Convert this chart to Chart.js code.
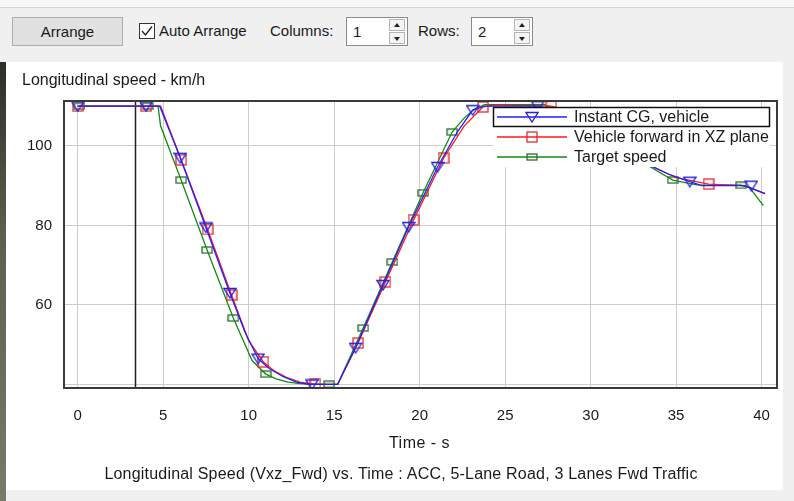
<!DOCTYPE html>
<html>
<head>
<meta charset="utf-8">
<script src="https://cdn.jsdelivr.net/npm/chart.js@4.4.0/dist/chart.umd.min.js"></script>
<style>
    body { margin: 0; width: 794px; height: 501px; background: #f0f0f0; position: relative; overflow: hidden;
           font-family: "Liberation Sans", Arial, sans-serif; color: #1a1a1a; }
    .abs { position: absolute; }
    #topline { left: 0; top: 0; width: 794px; height: 7px; background: #f7f7f7; border-bottom: 1px solid #d4d4d4; }
    .btn { background: #e1e1e1; border: 1px solid #adadad; box-sizing: border-box; font-size: 15px;
           display: flex; align-items: center; justify-content: center; }
    .lbl { font-size: 15px; line-height: 18px; top: 22px; }
    .spin { background: #fff; border: 1px solid #8a8a8a; box-sizing: border-box; font-size: 15px; }
    .spin span { position: absolute; left: 6px; top: 5px; }
    .arr { position: absolute; right: 2px; width: 16px; height: 12px; background: #f4f4f4; border: 1px solid #b4b4b4; box-sizing: border-box; }
    .arr i { position: absolute; left: 4px; width: 0; height: 0; border-left: 3px solid transparent; border-right: 3px solid transparent; }
    #panel { left: 6px; top: 62px; width: 777px; height: 428px; background: #fff; }
    #strip { left: 0; top: 62px; width: 6px; height: 439px; background: linear-gradient(#2e2e28, #5f5f50 40%, #7a7a6a); }
    #wrap { left: 0; top: 62px; width: 794px; height: 428px; }
    .ct { font-size: 16px; line-height: 18px; white-space: nowrap; }
</style>
</head>
<body>
<div id="topline" class="abs"></div>
<div class="abs btn" style="left:12px;top:17px;width:111px;height:29px">Arrange</div>
<svg class="abs" style="left:139px;top:23px" width="17" height="17">
    <rect x="0.5" y="0.5" width="15" height="15" fill="#fff" stroke="#333"/>
    <path d="M3 8 L6.5 12 L13 3.5" fill="none" stroke="#222" stroke-width="1.4"/>
</svg>
<div class="abs lbl" style="left:159px">Auto Arrange</div>
<div class="abs lbl" style="left:270px">Columns:</div>
<div class="abs spin" style="left:346px;top:17px;width:62px;height:29px"><span>1</span>
    <div class="arr" style="top:1px"><i style="top:3px;border-bottom:4px solid #222"></i></div>
    <div class="arr" style="top:14px"><i style="top:4px;border-top:4px solid #222"></i></div>
</div>
<div class="abs lbl" style="left:418px">Rows:</div>
<div class="abs spin" style="left:471px;top:17px;width:62px;height:29px"><span>2</span>
    <div class="arr" style="top:1px"><i style="top:3px;border-bottom:4px solid #222"></i></div>
    <div class="arr" style="top:14px"><i style="top:4px;border-top:4px solid #222"></i></div>
</div>

<div id="panel" class="abs"></div>
<div id="strip" class="abs"></div>
<div id="wrap" class="abs"><canvas id="chart" width="794" height="428"></canvas></div>
<div class="abs ct" style="left:22px;top:71px">Longitudinal speed - km/h</div>
<div class="abs ct" style="left:0;width:839px;text-align:center;top:434px;letter-spacing:0.5px">Time - s</div>
<div class="abs ct" style="left:0;width:802px;text-align:center;top:465px;letter-spacing:0.2px">Longitudinal Speed (Vxz_Fwd) vs. Time : ACC, 5-Lane Road, 3 Lanes Fwd Traffic</div>

<script>
// ---- data ----
const xTicks = [0, 5, 10, 15, 20, 25, 30, 35, 40];
const yTicks = [40, 60, 80, 100];
const cursorTime = 3.35;
const seriesNames = ['Instant CG, vehicle', 'Vehicle forward in XZ plane', 'Target speed'];

// Instant CG, vehicle
const cgTime  = [0, 4.8, 6, 7.5, 8.9, 9.8, 10.55, 11.2, 12, 12.8, 13.5, 15.2, 16.25, 17.85, 19.35, 21.05, 22.2, 23.1, 23.8, 27, 28.5, 30, 31.5, 33, 34.5, 35.8, 36.5, 39, 40.2];
const cgSpeed = [110, 110, 97, 79.5, 63, 53, 46.5, 44, 42, 40.6, 40, 40, 49.2, 65, 79.6, 94.7, 103.5, 109, 110, 110, 108, 104, 99.5, 96, 93, 91, 90, 90, 88];
const cgMarkTime  = [0, 4, 6, 7.5, 8.9, 10.55, 13.7, 16.25, 17.85, 19.35, 21.05, 23.1, 26.9, 35.8, 39.4];
const cgMarkSpeed = [110, 110, 97, 79.5, 63, 46.5, 40, 49.2, 65, 79.6, 94.7, 109, 110, 91, 90];

// Vehicle forward in XZ plane
const fwdTime  = [0, 4.85, 6.05, 7.6, 9.0, 10, 10.85, 11.5, 12.2, 13, 13.9, 15.2, 16.4, 18, 19.65, 21.4, 22.6, 23.7, 24.5, 27.7, 29, 30.5, 32, 33.7, 35, 36.9, 39, 40.2];
const fwdSpeed = [110, 110, 96.5, 79, 62.5, 51, 45.7, 43.4, 41.8, 40.6, 40, 40, 50.4, 65.8, 81.4, 96.9, 105, 109.8, 110.3, 110, 108.5, 104, 99, 94.7, 92, 90.4, 90, 88];
const fwdMarkTime  = [0, 4, 6.05, 7.6, 9.0, 10.85, 13.9, 16.4, 18.0, 19.65, 21.4, 23.7, 27.7, 36.9];
const fwdMarkSpeed = [110, 110, 96.5, 79, 62.5, 45.7, 40, 50.4, 65.8, 81.4, 96.9, 109.8, 110, 90.4];

// Target speed
const tgtTime  = [0, 4.7, 4.85, 6.05, 7.57, 9.1, 10.2, 11.0, 11.6, 12.3, 13, 14.7, 15.2, 16.7, 18.4, 20.2, 21.9, 22.6, 23.2, 23.8, 27.3, 29, 31, 33.5, 34.8, 36.2, 38.8, 39.3, 40.1];
const tgtSpeed = [110, 110, 105, 91.4, 73.8, 56.7, 46, 42.6, 41.4, 40.6, 40.2, 40, 40, 54.2, 70.8, 88.2, 103.5, 107, 109.3, 110.4, 110.4, 107, 101, 94.7, 91.4, 90.2, 90.1, 89.5, 85];
const tgtMarkTime  = [0.1, 4.1, 6.05, 7.57, 9.1, 11.0, 14.7, 16.7, 18.4, 20.2, 21.9, 34.8, 38.8];
const tgtMarkSpeed = [110, 110, 91.4, 73.8, 56.7, 42.6, 40, 54.2, 70.8, 88.2, 103.5, 91.4, 90.1];

const lineColors   = ['#1f1fff', '#ff1a1a', '#138a13'];
const markerColors = ['#2323d8', '#e52b2b', '#2a6e2a'];

// ---- helpers ----
const zip = (xs, ys) => xs.map((x, i) => ({ x, y: ys[i] }));

function makeMarker(kind, color) {
    const c = document.createElement('canvas');
    if (kind === 'tri') { c.width = 14; c.height = 12; }
    else if (kind === 'sq') { c.width = 12; c.height = 12; }
    else { c.width = 12; c.height = 8; }
    const g = c.getContext('2d');
    g.strokeStyle = color;
    g.lineWidth = 1.3;
    if (kind === 'tri') {
        g.beginPath(); g.moveTo(1, 1.5); g.lineTo(13, 1.5); g.lineTo(7, 11); g.closePath(); g.stroke();
    } else if (kind === 'sq') {
        g.strokeRect(1, 1, 10, 10);
    } else {
        g.strokeRect(1, 1, 10, 6);
    }
    return c;
}
const markers = [makeMarker('tri', markerColors[0]), makeMarker('sq', markerColors[1]), makeMarker('rect', markerColors[2])];

const curves = [zip(cgTime, cgSpeed), zip(fwdTime, fwdSpeed), zip(tgtTime, tgtSpeed)];
const marks  = [zip(cgMarkTime, cgMarkSpeed), zip(fwdMarkTime, fwdMarkSpeed), zip(tgtMarkTime, tgtMarkSpeed)];

const datasets = [];
seriesNames.forEach((name, i) => {
    datasets.push({
        label: name, data: curves[i], borderColor: lineColors[i], borderWidth: 1.3,
        showLine: true, pointRadius: 0, tension: 0, fill: false
    });
    datasets.push({
        label: name + ' markers', data: marks[i], showLine: false,
        pointStyle: markers[i], pointRadius: 6
    });
});

// ---- plot frame, cursor line and legend ----
const frame = {
    id: 'frame',
    beforeDatasetsDraw(chart) {
        const { ctx, chartArea: a, scales: { x } } = chart;
        const cx = Math.round(x.getPixelForValue(cursorTime)) + 0.5;
        ctx.save();
        ctx.strokeStyle = '#202020';
        ctx.lineWidth = 1.5;
        ctx.beginPath(); ctx.moveTo(cx, a.top); ctx.lineTo(cx, a.bottom); ctx.stroke();
        ctx.restore();
    },
    afterDatasetsDraw(chart) {
        const { ctx, chartArea: a } = chart;
        ctx.save();
        // legend box
        const lx = 493, ly = 45, lw = 277, rowH = 20;
        ctx.fillStyle = '#fff';
        ctx.fillRect(lx, ly, lw, rowH * 3);
        ctx.font = '16px "Liberation Sans", Arial, sans-serif';
        ctx.textBaseline = 'middle';
        seriesNames.forEach((name, i) => {
            const cy = ly + rowH * i + 10;
            ctx.strokeStyle = lineColors[i];
            ctx.lineWidth = 1.4;
            ctx.beginPath(); ctx.moveTo(497, cy); ctx.lineTo(567, cy); ctx.stroke();
            const m = markers[i];
            ctx.drawImage(m, 532 - m.width / 2, cy - m.height / 2);
            ctx.fillStyle = '#1a1a1a';
            ctx.fillText(name, 574, cy + 1);
        });
        ctx.strokeStyle = '#111';
        ctx.lineWidth = 1.5;
        ctx.strokeRect(lx + 0.5, ly + 0.5, lw - 1, rowH - 1);
        // plot border
        ctx.strokeStyle = '#3a3a3a';
        ctx.lineWidth = 2;
        ctx.strokeRect(a.left, a.top, a.right - a.left, a.bottom - a.top);
        ctx.restore();
    }
};

const tickFont = { family: '"Liberation Sans", Arial, sans-serif', size: 15 };

new Chart(document.getElementById('chart'), {
    type: 'scatter',
    data: { datasets },
    options: {
        responsive: false,
        animation: false,
        events: [],
        layout: { padding: { top: 39, right: 17, left: 0, bottom: 0 } },
        plugins: { legend: { display: false }, tooltip: { enabled: false } },
        scales: {
            x: {
                type: 'linear', min: -0.8, max: 40.9,
                afterBuildTicks: s => { s.ticks = xTicks.map(v => ({ value: v })); },
                afterFit: s => { s.height = 102; },
                grid: { color: '#cdcdcd', lineWidth: 1, drawTicks: false },
                border: { display: false },
                ticks: { padding: 19, color: '#1a1a1a', font: tickFont, maxRotation: 0 }
            },
            y: {
                type: 'linear', min: 39.1, max: 111.3,
                afterBuildTicks: s => { s.ticks = yTicks.map(v => ({ value: v })); },
                afterFit: s => { s.width = 64; },
                grid: { color: '#cdcdcd', lineWidth: 1, drawTicks: false },
                border: { display: false },
                ticks: { padding: 12, color: '#1a1a1a', font: tickFont, callback: v => (v === 40 ? '' : v) }
            }
        }
    },
    plugins: [frame]
});
</script>
</body>
</html>
